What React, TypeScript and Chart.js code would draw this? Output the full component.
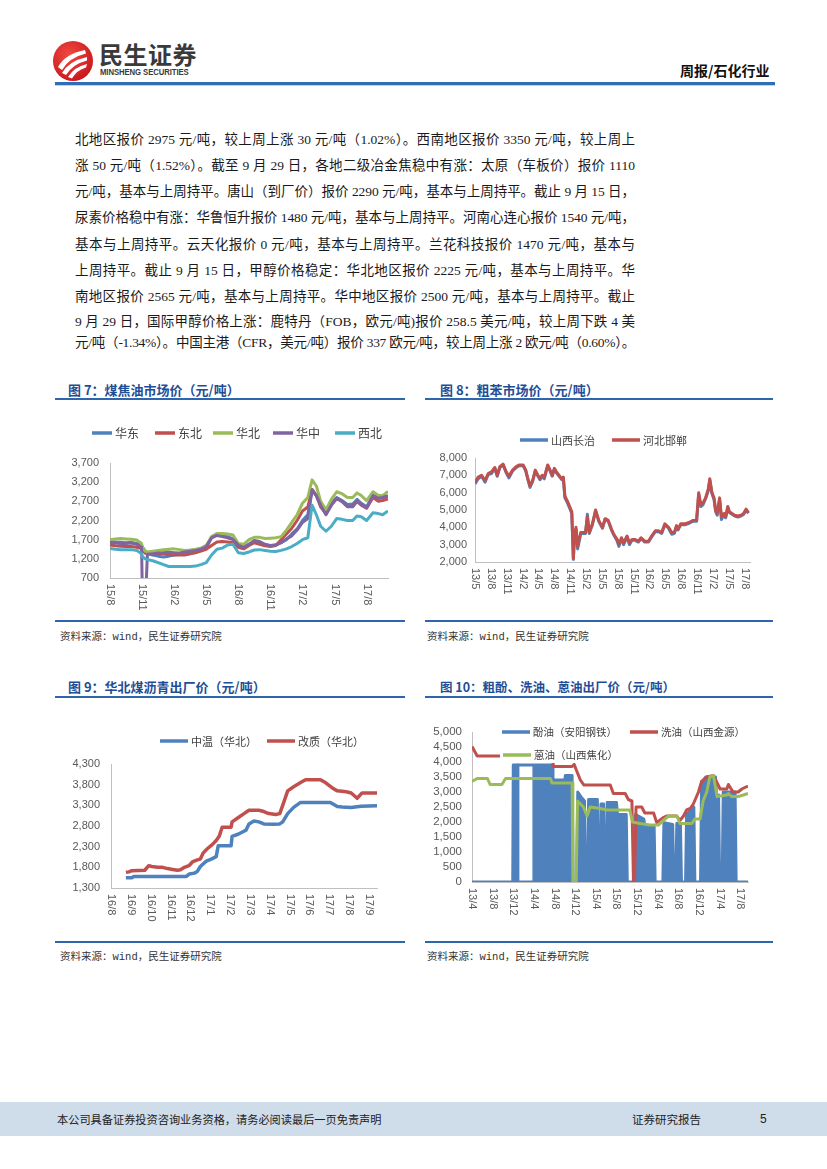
import React, { useEffect, useLayoutEffect, useRef } from 'react';
import { Chart, registerables } from 'chart.js';

Chart.register(...registerables);

// ---------------- colours / fonts ----------------
const BLUE = '#4f81bd';
const RED = '#c0504d';
const GREEN = '#9bbb59';
const PURPLE = '#8064a2';
const CYAN = '#4bacc6';
const AXIS = '#bfbfbf';
const TICK = '#595959';
const TICK_FAMILY = '"Liberation Sans", Arial, sans-serif';
const CJK = '"Noto Sans CJK SC", sans-serif';

// ---------------- Fig 7: 煤焦油市场价 (months since 2015-08) ----------------
const c7SeriesNames = ['华东', '东北', '华北', '华中', '西北'];
const c7Months = [0, 0.5, 1, 1.5, 2, 2.5, 2.95, 3.05, 3.3, 3.5, 4, 4.5, 5, 5.5, 6, 6.5, 7, 7.5, 8, 8.5, 9, 9.5, 10, 10.5, 11, 11.5, 12, 12.5, 13, 13.5, 14, 14.5, 15, 15.5, 16, 16.5, 17, 17.5, 18, 18.5, 18.9, 19.3, 19.7, 20.2, 20.7, 21.2, 21.7, 22.2, 22.7, 23.1, 23.5, 24, 24.6, 25.1, 25.5, 26];
const c7East = [1650, 1640, 1630, 1620, 1630, 1600, 1560, 1500, 1400, 1350, 1300, 1270, 1250, 1270, 1300, 1320, 1320, 1340, 1380, 1420, 1480, 1750, 1830, 1810, 1780, 1720, 1550, 1500, 1580, 1650, 1620, 1560, 1540, 1560, 1620, 1700, 1850, 1980, 2200, 2350, 3000, 2850, 2600, 2400, 2650, 2800, 2720, 2620, 2630, 2750, 2650, 2560, 2850, 2780, 2800, 2830];
const c7NorthEast = [1560, 1540, 1530, 1520, 1520, 1500, 1470, 1420, 1350, 1330, 1320, 1330, 1330, 1320, 1300, 1300, 1300, 1330, 1360, 1400, 1450, 1550, 1640, 1650, 1640, 1620, 1500, 1460, 1550, 1620, 1580, 1540, 1520, 1550, 1700, 1850, 2000, 2200, 2450, 2550, 3010, 2850, 2550, 2380, 2600, 2780, 2700, 2570, 2580, 2700, 2600, 2520, 2800, 2700, 2720, 2760];
const c7North = [1700, 1720, 1730, 1720, 1710, 1690, 1600, 1480, 1400, 1380, 1400, 1420, 1440, 1450, 1460, 1440, 1420, 1430, 1450, 1480, 1550, 1780, 1860, 1860, 1850, 1820, 1600, 1580, 1700, 1760, 1760, 1730, 1740, 1750, 1780, 1950, 2150, 2350, 2650, 2800, 3260, 3100, 2700, 2480, 2750, 2950, 2900, 2800, 2800, 2920, 2850, 2720, 2950, 2850, 2850, 2960];
const c7Central = [1620, 1610, 1600, 1600, 1610, 1580, 1500, 0, 0, 1320, 1330, 1350, 1360, 1370, 1360, 1350, 1380, 1400, 1420, 1450, 1520, 1750, 1810, 1780, 1750, 1700, 1560, 1500, 1580, 1680, 1650, 1580, 1550, 1560, 1620, 1720, 1800, 1950, 2150, 2250, 3000, 2850, 2600, 2350, 2600, 2770, 2700, 2560, 2560, 2700, 2620, 2530, 2850, 2780, 2800, 2850];
const c7NorthWest = [1470, 1450, 1440, 1440, 1440, 1420, 1330, 1250, 1200, 1180, 1150, 1100, 1050, 1000, 1000, 1000, 1000, 1000, 1010, 1050, 1100, 1300, 1450, 1480, 1560, 1580, 1360, 1340, 1380, 1430, 1440, 1420, 1400, 1390, 1420, 1460, 1520, 1600, 1700, 1750, 2600, 2350, 2050, 1920, 2050, 2250, 2230, 2200, 2200, 2320, 2300, 2200, 2400, 2380, 2350, 2450];
const c7TickMonths = [0, 3, 6, 9, 12, 15, 18, 21, 24];
const c7TickLabels = ['15/8', '15/11', '16/2', '16/5', '16/8', '16/11', '17/2', '17/5', '17/8'];

// ---------------- Fig 8: 粗苯市场价 (months since 2013-05) ----------------
const c8SeriesNames = ['山西长治', '河北邯郸'];
const c8Months = [0, 0.6, 1.25, 1.9, 2.5, 3.1, 3.75, 4.2, 4.7, 5.3, 5.9, 6.4, 7.1, 7.8, 8.4, 9.1, 9.6, 10, 10.4, 10.9, 11.4, 11.9, 12.3, 12.7, 13.1, 13.75, 14.2, 14.6, 15, 15.4, 15.9, 16.4, 16.7, 17, 17.5, 17.9, 18.3, 18.6, 18.8, 19.1, 19.4, 19.7, 20, 20.6, 20.9, 21.25, 21.6, 22.2, 22.8, 23.4, 24.1, 24.6, 25.2, 25.8, 26.25, 26.9, 27.2, 27.7, 28.1, 28.75, 29.2, 29.7, 30.3, 30.9, 31.4, 32.1, 32.8, 33.4, 34.1, 34.7, 35.3, 35.9, 36.6, 37.2, 37.7, 38.1, 38.4, 38.9, 39.7, 40.6, 41.25, 41.9, 42.3, 42.7, 43.1, 43.6, 44.1, 44.4, 44.8, 45.2, 45.5, 45.8, 46.25, 46.6, 47.1, 47.4, 47.8, 48.1, 48.6, 49.1, 49.7, 50.3, 50.8, 51.25, 51.7];
const c8Changzhi = [6500, 6800, 6950, 6600, 7050, 7100, 7400, 6950, 7450, 7600, 7150, 6850, 7250, 7450, 7550, 7550, 7250, 6750, 6300, 6650, 7250, 6950, 6750, 6950, 6800, 7550, 7250, 6950, 7350, 7150, 6950, 6750, 6850, 5700, 5400, 5100, 4800, 2150, 3400, 3900, 2750, 3200, 3650, 3650, 3650, 4750, 3650, 4150, 4950, 4350, 3950, 4450, 4350, 3850, 3550, 3200, 2900, 3350, 3000, 3450, 3000, 3250, 3250, 3150, 3350, 3150, 3150, 3450, 3750, 3750, 3650, 4150, 3950, 3600, 3650, 4050, 3850, 4150, 4150, 4250, 4350, 4350, 5900, 5200, 5300, 5650, 6100, 6700, 5950, 5600, 4900, 4700, 5600, 4450, 4750, 4550, 5150, 4850, 4750, 4650, 4600, 4650, 4750, 5000, 4800];
const c8Handan = [6600, 6900, 7000, 6700, 7100, 7200, 7450, 7000, 7500, 7650, 7200, 6950, 7300, 7500, 7600, 7600, 7300, 6800, 6400, 6700, 7300, 7000, 6800, 7000, 6900, 7600, 7300, 7000, 7400, 7200, 7000, 6800, 6900, 5800, 5500, 5200, 4900, 2200, 3500, 4000, 2900, 3300, 3700, 3700, 3700, 4600, 3700, 4200, 5000, 4400, 4000, 4500, 4400, 3900, 3600, 3300, 3000, 3400, 3100, 3500, 3100, 3300, 3300, 3200, 3400, 3200, 3200, 3500, 3800, 3800, 3700, 4200, 4000, 3700, 3700, 4100, 3900, 4200, 4200, 4300, 4400, 4400, 6000, 5300, 5400, 5700, 6200, 6800, 6000, 5700, 5000, 4800, 5700, 4600, 4800, 4600, 5200, 4900, 4800, 4700, 4650, 4700, 4800, 5050, 4850];
const c8TickMonths = [0, 3, 6, 9, 12, 15, 18, 21, 24, 27, 30, 33, 36, 39, 42, 45, 48, 51];
const c8TickLabels = ['13/5', '13/8', '13/11', '14/2', '14/5', '14/8', '14/11', '15/2', '15/5', '15/8', '15/11', '16/2', '16/5', '16/8', '16/11', '17/2', '17/5', '17/8'];

// ---------------- Fig 9: 华北煤沥青出厂价 (months since 2016-08) ----------------
const c9SeriesNames = ['中温（华北）', '改质（华北）'];
const c9MidMonths = [0.75, 1.05, 1.15, 3.8, 3.95, 4.2, 4.35, 4.5, 4.8, 5.05, 5.3, 5.4, 6.05, 6.1, 6.4, 6.6, 6.8, 6.95, 7.2, 7.45, 7.7, 8.2, 8.5, 8.65, 8.9, 9.2, 9.55, 11.05, 11.4, 11.65, 12.1, 12.6, 13.4];
const c9Mid = [1550, 1550, 1580, 1580, 1640, 1660, 1700, 1820, 1950, 2000, 2060, 2320, 2320, 2550, 2600, 2650, 2700, 2850, 2920, 2900, 2850, 2840, 2850, 2900, 3100, 3250, 3370, 3370, 3270, 3260, 3250, 3280, 3290];
const c9ModMonths = [0.75, 0.9, 1.05, 1.7, 1.9, 2.05, 2.35, 2.6, 2.85, 3.1, 3.35, 3.5, 3.7, 3.95, 4.1, 4.35, 4.5, 4.65, 4.85, 5.1, 5.3, 5.45, 5.6, 6.05, 6.1, 6.4, 6.7, 6.95, 7.45, 7.7, 7.95, 8.3, 8.5, 8.65, 8.9, 9.2, 9.55, 9.8, 10.55, 10.8, 11.15, 11.4, 11.85, 12.1, 12.4, 12.65, 13.4];
const c9Modified = [1680, 1690, 1720, 1730, 1840, 1820, 1800, 1800, 1770, 1750, 1730, 1740, 1800, 1850, 1930, 1980, 2000, 2150, 2250, 2350, 2450, 2550, 2770, 2770, 2900, 3000, 3100, 3180, 3180, 3150, 3100, 3080, 3100, 3300, 3650, 3750, 3850, 3920, 3920, 3850, 3720, 3650, 3630, 3600, 3470, 3600, 3600];
const c9TickMonths = [0, 1, 2, 3, 4, 5, 6, 7, 8, 9, 10, 11, 12, 13];
const c9TickLabels = ['16/8', '16/9', '16/10', '16/11', '16/12', '17/1', '17/2', '17/3', '17/4', '17/5', '17/6', '17/7', '17/8', '17/9'];

// ---------------- Fig 10: 粗酚、洗油、蒽油出厂价 (months since 2013-04) ----------------
const c10SeriesNames = ['酚油（安阳钢铁）', '洗油（山西金源）', '蒽油（山西焦化）'];
const c10PhenolMonths = [0, 7.9, 8.0, 8.8, 8.9, 11.9, 12.0, 15.6, 15.7, 18.0, 18.1, 19.4, 19.6, 20.3, 20.5, 21.3, 21.8, 22.0, 22.4, 22.6, 24.3, 24.5, 24.8, 25.0, 25.5, 25.7, 26.0, 26.2, 28.0, 28.2, 29.9, 30.1, 31.5, 31.7, 33.3, 33.5, 35.3, 35.5, 37.0, 37.2, 38.9, 39.1, 39.5, 39.7, 40.4, 40.6, 41.4, 41.6, 43.0, 43.2, 44.3, 44.5, 45.3, 47.2, 47.4, 47.8, 48.0, 48.5, 48.7, 51.0, 51.2, 53.5];
const c10Phenol = [0, 0, 3900, 3900, 0, 0, 3900, 3900, 3400, 3400, 3550, 3550, 0, 0, 3000, 2800, 2700, 0, 0, 2750, 2750, 0, 0, 2600, 2600, 0, 0, 2650, 2650, 2250, 2250, 0, 0, 2250, 2100, 1880, 1880, 0, 0, 1980, 1920, 0, 0, 1950, 1950, 0, 0, 2250, 2500, 0, 0, 3300, 3500, 3500, 2900, 2900, 0, 0, 3000, 3000, 0, 0];
const c10PhenolTopMonths = [8.8, 11.95];
const c10PhenolTop = [3900, 3900];
const c10WashMonths = [0, 1.0, 15.5, 15.8, 19.4, 19.8, 20.3, 21.0, 21.7, 26.8, 27.4, 29.7, 30.3, 31.0, 31.3, 31.5, 31.8, 32.9, 33.5, 35.2, 35.8, 37.1, 37.7, 39.7, 40.3, 41.0, 41.6, 42.3, 42.9, 43.9, 44.5, 45.5, 46.8, 48.1, 49.4, 49.7, 50.6, 51.6, 52.3, 52.9, 53.5];
const c10Wash = [4520, 4200, 4200, 3850, 3850, 3920, 3700, 3400, 3230, 3230, 2950, 2950, 2750, 2700, 0, 0, 2500, 2500, 2300, 2300, 1980, 2150, 2200, 2200, 2050, 2200, 2400, 2450, 2600, 3000, 3350, 3500, 3550, 3100, 3100, 3250, 3000, 3000, 3100, 3150, 3200];
const c10AnthraMonths = [0, 1.0, 3.0, 3.5, 5.8, 6.5, 15.2, 15.5, 19.4, 19.55, 20.2, 20.45, 21.6, 22.3, 22.9, 24.8, 26.1, 30.6, 31.1, 32.6, 34.5, 36.1, 37.1, 38.1, 39.7, 40.3, 42.6, 43.2, 44.2, 44.8, 45.5, 46.1, 46.8, 47.5, 49.4, 49.7, 50.3, 51.6, 52.6, 53.5];
const c10Anthra = [3350, 3450, 3450, 3250, 3250, 3450, 3450, 3300, 3300, 0, 0, 2700, 2500, 2200, 2500, 2450, 2400, 2400, 2000, 1950, 1900, 1900, 2050, 2200, 2200, 1950, 1950, 2100, 2100, 2700, 3000, 3500, 3550, 2850, 2900, 2950, 2850, 2850, 2900, 2950];
const c10TickMonths = [0, 4, 8, 12, 16, 20, 24, 28, 32, 36, 40, 44, 48, 52];
const c10TickLabels = ['13/4', '13/8', '13/12', '14/4', '14/8', '14/12', '15/4', '15/8', '15/12', '16/4', '16/8', '16/12', '17/4', '17/8'];

// ---------------- page text ----------------
const PARA_LINES = [
  '北地区报价 2975 元/吨，较上周上涨 30 元/吨（1.02%）。西南地区报价 3350 元/吨，较上周上',
  '涨 50 元/吨（1.52%）。截至 9 月 29 日，各地二级冶金焦稳中有涨：太原（车板价）报价 1110',
  '元/吨，基本与上周持平。唐山（到厂价）报价 2290 元/吨，基本与上周持平。截止 9 月 15 日，',
  '尿素价格稳中有涨：华鲁恒升报价 1480 元/吨，基本与上周持平。河南心连心报价 1540 元/吨，',
  '基本与上周持平。云天化报价 0 元/吨，基本与上周持平。兰花科技报价 1470 元/吨，基本与',
  '上周持平。截止 9 月 15 日，甲醇价格稳定：华北地区报价 2225 元/吨，基本与上周持平。华',
  '南地区报价 2565 元/吨，基本与上周持平。华中地区报价 2500 元/吨，基本与上周持平。截止',
  '9 月 29 日，国际甲醇价格上涨：鹿特丹（FOB，欧元/吨)报价 258.5 美元/吨，较上周下跌 4 美',
  '元/吨（-1.34%）。中国主港（CFR，美元/吨）报价 337 欧元/吨，较上周上涨 2 欧元/吨（0.60%）。',
];
const PARA_Y = [140, 166, 192, 218, 245, 271, 297, 322, 343];
const PARA_LEFT = 75;
const PARA_W = 560;

// ---------------- helpers ----------------
type Pt = { x: number; y: number };
const pts = (xs: number[], ys: number[]): Pt[] => xs.map((x, i) => ({ x, y: ys[i] }));

function ds(label: string, color: string, data: Pt[], width = 3, extra: any = {}) {
  return {
    label,
    data,
    borderColor: color,
    backgroundColor: color,
    borderWidth: width,
    pointRadius: 0,
    pointHoverRadius: 0,
    fill: false,
    tension: 0,
    borderJoinStyle: 'round',
    ...extra,
  };
}

// later series drawn on top (as in the original spreadsheet charts)
const stackOrder = (list: any[]) => list.map((d, i) => ({ ...d, order: list.length - i }));

function rotatedXLabels(values: number[], labels: string[], font: string, offset: number) {
  return {
    id: 'rotatedXLabels',
    afterDraw(chart: any) {
      const xs = chart.scales.x;
      const ctx = chart.ctx;
      ctx.save();
      ctx.font = font;
      ctx.fillStyle = TICK;
      ctx.textAlign = 'left';
      ctx.textBaseline = 'middle';
      values.forEach((v, i) => {
        const px = xs.getPixelForValue(v);
        ctx.save();
        ctx.translate(px, xs.top + offset);
        ctx.rotate(Math.PI / 2);
        ctx.fillText(labels[i], 0, 0);
        ctx.restore();
      });
      ctx.restore();
    },
  };
}

type LegendItem = { index: number; x: number; y: number };
function lineLegend(items: LegendItem[], font: string, lineLen: number, cover?: number[]) {
  return {
    id: 'lineLegend',
    afterDraw(chart: any) {
      const ctx = chart.ctx;
      ctx.save();
      if (cover) {
        ctx.fillStyle = '#ffffff';
        ctx.fillRect(cover[0], cover[1], cover[2], cover[3]);
      }
      ctx.font = font;
      ctx.textAlign = 'left';
      ctx.textBaseline = 'middle';
      items.forEach((it) => {
        const d = chart.data.datasets[it.index];
        ctx.fillStyle = d.borderColor;
        ctx.fillRect(it.x, it.y - 1.75, lineLen, 3.5);
        ctx.fillStyle = '#404040';
        ctx.fillText(d.label, it.x + lineLen + 3, it.y + 0.5);
      });
      ctx.restore();
    },
  };
}

interface Spec {
  datasets: any[];
  xMax: number;
  yMin: number;
  yMax: number;
  yStep: number;
  yWidth: number;
  yPad: number;
  yFontSize: number;
  xHeight: number;
  padding: { left: number; right: number; top: number; bottom: number };
  xTickValues: number[];
  xTickLabels: string[];
  legend: LegendItem[];
  legendFont: string;
  legendLine: number;
  cover?: number[];
}

function makeLineChart(canvas: HTMLCanvasElement, s: Spec) {
  return new Chart(canvas, {
    type: 'line',
    data: { datasets: stackOrder(s.datasets) },
    options: {
      responsive: false,
      animation: false,
      devicePixelRatio: 1,
      layout: { padding: s.padding },
      events: [],
      plugins: { legend: { display: false }, tooltip: { enabled: false } },
      scales: {
        x: {
          type: 'linear',
          min: 0,
          max: s.xMax,
          grid: { display: false, drawTicks: false },
          border: { display: true, color: AXIS, width: 1 },
          ticks: { display: false },
          afterFit: (sc: any) => {
            sc.height = s.xHeight;
          },
        },
        y: {
          type: 'linear',
          min: s.yMin,
          max: s.yMax,
          grid: { display: false, drawTicks: false },
          border: { display: true, color: AXIS, width: 1 },
          ticks: {
            stepSize: s.yStep,
            autoSkip: false,
            color: TICK,
            padding: s.yPad,
            font: { family: TICK_FAMILY, size: s.yFontSize },
            callback: (v: any) => Number(v).toLocaleString('en-US'),
          },
          afterFit: (sc: any) => {
            sc.width = s.yWidth;
          },
        },
      },
    } as any,
    plugins: [
      rotatedXLabels(s.xTickValues, s.xTickLabels, `11px ${TICK_FAMILY}`, 6),
      lineLegend(s.legend, s.legendFont, s.legendLine, s.cover),
    ],
  });
}

function ChartBox({ left, top, width, height, spec }: { left: number; top: number; width: number; height: number; spec: () => Spec }) {
  const ref = useRef<HTMLCanvasElement>(null);
  useEffect(() => {
    const chart = makeLineChart(ref.current as HTMLCanvasElement, spec());
    return () => chart.destroy();
  }, []);
  return (
    <canvas
      ref={ref}
      width={width}
      height={height}
      style={{ position: 'absolute', left, top, width, height, display: 'block' }}
    />
  );
}

// ---------------- chart specs ----------------
const spec7 = (): Spec => ({
  datasets: [
    ds(c7SeriesNames[0], BLUE, pts(c7Months, c7East)),
    ds(c7SeriesNames[1], RED, pts(c7Months, c7NorthEast)),
    ds(c7SeriesNames[2], GREEN, pts(c7Months, c7North)),
    ds(c7SeriesNames[3], PURPLE, pts(c7Months, c7Central)),
    ds(c7SeriesNames[4], CYAN, pts(c7Months, c7NorthWest)),
  ],
  xMax: 26,
  yMin: 700,
  yMax: 3700,
  yStep: 500,
  yWidth: 45,
  yPad: 11,
  yFontSize: 11,
  xHeight: 30,
  padding: { left: 10, right: 17, top: 63, bottom: 7 },
  xTickValues: c7TickMonths,
  xTickLabels: c7TickLabels,
  legend: [
    { index: 0, x: 37, y: 33 },
    { index: 1, x: 100, y: 33 },
    { index: 2, x: 158, y: 33 },
    { index: 3, x: 218, y: 33 },
    { index: 4, x: 280, y: 33 },
  ],
  legendFont: `12px ${CJK}`,
  legendLine: 20,
});

const spec8 = (): Spec => ({
  datasets: [
    ds(c8SeriesNames[0], BLUE, pts(c8Months, c8Changzhi)),
    ds(c8SeriesNames[1], RED, pts(c8Months, c8Handan)),
  ],
  xMax: 52,
  yMin: 2000,
  yMax: 8000,
  yStep: 1000,
  yWidth: 40,
  yPad: 8,
  yFontSize: 11,
  xHeight: 40,
  padding: { left: 10, right: 25, top: 58, bottom: 13 },
  xTickValues: c8TickMonths,
  xTickLabels: c8TickLabels,
  legend: [
    { index: 0, x: 95, y: 40 },
    { index: 1, x: 187, y: 40 },
  ],
  legendFont: `11px ${CJK}`,
  legendLine: 28,
});

const spec9 = (): Spec => ({
  datasets: [
    ds(c9SeriesNames[0], BLUE, pts(c9MidMonths, c9Mid), 3.5),
    ds(c9SeriesNames[1], RED, pts(c9ModMonths, c9Modified), 3.5),
  ],
  xMax: 13.4,
  yMin: 1300,
  yMax: 4300,
  yStep: 500,
  yWidth: 46,
  yPad: 11,
  yFontSize: 11,
  xHeight: 40,
  padding: { left: 10, right: 28, top: 64, bottom: 7 },
  xTickValues: c9TickMonths,
  xTickLabels: c9TickLabels,
  legend: [
    { index: 0, x: 105, y: 41 },
    { index: 1, x: 212, y: 41 },
  ],
  legendFont: `11px ${CJK}`,
  legendLine: 28,
});

const spec10 = (): Spec => ({
  datasets: [
    ds(c10SeriesNames[0], BLUE, pts(c10PhenolMonths, c10Phenol), 3, { fill: 'origin' }),
    ds('', BLUE, pts(c10PhenolTopMonths, c10PhenolTop), 3),
    ds(c10SeriesNames[1], RED, pts(c10WashMonths, c10Wash), 3),
    ds(c10SeriesNames[2], GREEN, pts(c10AnthraMonths, c10Anthra), 3),
  ],
  xMax: 53.5,
  yMin: 0,
  yMax: 5000,
  yStep: 500,
  yWidth: 40,
  yPad: 10,
  yFontSize: 11.5,
  xHeight: 40,
  padding: { left: 7, right: 27, top: 32, bottom: 13 },
  xTickValues: c10TickMonths,
  xTickLabels: c10TickLabels,
  legend: [
    { index: 0, x: 77, y: 32 },
    { index: 2, x: 205, y: 32 },
    { index: 3, x: 78, y: 55 },
  ],
  legendFont: `10.5px ${CJK}`,
  legendLine: 28,
  cover: [75, 45, 122, 18],
});

// ---------------- page pieces ----------------
function Txt({ x, y, size, children, bold, color, family, h, style }: any) {
  const lh = h || Math.round(size * 1.4);
  return (
    <div
      style={{
        position: 'absolute',
        left: x,
        top: y - lh / 2,
        fontSize: size,
        lineHeight: `${lh}px`,
        fontWeight: bold ? 700 : 400,
        color: color || '#222',
        fontFamily: family || CJK,
        whiteSpace: 'nowrap',
        ...style,
      }}
    >
      {children}
    </div>
  );
}

function Rule({ x, y, w, h, color }: any) {
  return <div style={{ position: 'absolute', left: x, top: y, width: w, height: h || 2, background: color || '#2e66ae' }} />;
}

function Paragraph() {
  const refs = useRef<Array<HTMLDivElement | null>>([]);
  useLayoutEffect(() => {
    refs.current.forEach((el) => {
      if (!el) return;
      const span = el.firstElementChild as HTMLElement;
      el.style.whiteSpace = 'nowrap';
      el.style.textAlignLast = 'left';
      const w = span.getBoundingClientRect().width;
      el.style.whiteSpace = 'normal';
      el.style.textAlignLast = 'justify';
      if (w > PARA_W) {
        const n = (span.textContent || '').length;
        el.style.letterSpacing = `${(PARA_W - w) / n - 0.05}px`;
      }
    });
  }, []);
  return (
    <>
      {PARA_LINES.map((t, i) => (
        <div
          key={i}
          ref={(el) => {
            refs.current[i] = el;
          }}
          style={{
            position: 'absolute',
            left: PARA_LEFT,
            top: PARA_Y[i] - 10,
            width: PARA_W,
            height: 20,
            lineHeight: '20px',
            fontSize: 13.5,
            color: '#1a1a1a',
            fontFamily: '"Liberation Serif", "Noto Sans CJK SC", serif',
            textAlign: 'justify',
            textAlignLast: 'justify' as any,
            overflow: 'visible',
          }}
        >
          <span>{t}</span>
        </div>
      ))}
    </>
  );
}

function Logo() {
  return (
    <svg width={42} height={42} viewBox="0 0 42 42" style={{ position: 'absolute', left: 52, top: 40 }}>
      <defs>
        <radialGradient id="lg" cx="40%" cy="35%" r="70%">
          <stop offset="0%" stopColor="#f04a40" />
          <stop offset="100%" stopColor="#c8161d" />
        </radialGradient>
      </defs>
      <circle cx="21" cy="21" r="20" fill="url(#lg)" />
      <path d="M6 27 Q13 14 33 10 L34 13.5 Q17 17.5 10 30 Z" fill="#fff" />
      <path d="M10 33 Q17 21 35 17 L35 20.5 Q21 24 14 35 Z" fill="#fff" />
      <path d="M16 37 Q22 27 35 24 L34 27.5 Q25 30 20 38.5 Z" fill="#fff" />
    </svg>
  );
}

export default function App() {
  useEffect(() => {
    document.body.style.margin = '0';
  }, []);
  const src = '资料来源：wind，民生证券研究院';
  const srcFamily = '"Liberation Mono", "Noto Sans CJK SC", monospace';
  return (
    <div style={{ position: 'absolute', left: 0, top: 0, width: 827, height: 1169, background: '#fff', overflow: 'hidden' }}>
      {/* header */}
      <Logo />
      <Txt x={99} y={54} size={24} bold color="#3a3a3a" h={28} style={{ letterSpacing: '0.5px' }}>
        民生证券
      </Txt>
      <Txt
        x={100}
        y={71.5}
        size={9}
        bold
        color="#3a3a3a"
        family={TICK_FAMILY}
        h={10}
        style={{ transform: 'scaleX(0.86)', transformOrigin: 'left center', letterSpacing: '-0.1px' }}
      >
        MINSHENG SECURITIES
      </Txt>
      <Txt x={680} y={70} size={14} bold color="#111">
        周报/石化行业
      </Txt>
      <Rule x={55} y={82} w={720} h={3} color="#2f6db5" />
      <Rule x={55} y={85} w={720} h={1} color="#c9d3df" />

      {/* paragraph */}
      <Paragraph />

      {/* figure 7 */}
      <Txt x={68} y={390} size={13} bold color="#1f4e96">
        图 7：煤焦油市场价（元/吨）
      </Txt>
      <Rule x={55} y={398} w={350} h={2} />
      <ChartBox left={55} top={400} width={350} height={215} spec={spec7} />
      <Rule x={55} y={620} w={350} h={2} />
      <Txt x={60} y={637} size={10.5} color="#333" family={srcFamily}>
        {src}
      </Txt>

      {/* figure 8 */}
      <Txt x={440} y={390} size={13} bold color="#1f4e96">
        图 8：粗苯市场价（元/吨）
      </Txt>
      <Rule x={425} y={398} w={348} h={2} />
      <ChartBox left={425} top={400} width={350} height={215} spec={spec8} />
      <Rule x={425} y={620} w={348} h={2} />
      <Txt x={427} y={637} size={10.5} color="#333" family={srcFamily}>
        {src}
      </Txt>

      {/* figure 9 */}
      <Txt x={68} y={687} size={13} bold color="#1f4e96">
        图 9：华北煤沥青出厂价（元/吨）
      </Txt>
      <Rule x={55} y={696} w={350} h={2} />
      <ChartBox left={55} top={700} width={350} height={235} spec={spec9} />
      <Rule x={55} y={941} w={350} h={2} />
      <Txt x={60} y={957} size={10.5} color="#333" family={srcFamily}>
        {src}
      </Txt>

      {/* figure 10 */}
      <Txt x={440} y={687} size={12.5} bold color="#1f4e96">
        图 10：粗酚、洗油、蒽油出厂价（元/吨）
      </Txt>
      <Rule x={425} y={696} w={348} h={2} />
      <ChartBox left={425} top={700} width={350} height={235} spec={spec10} />
      <Rule x={425} y={941} w={348} h={2} />
      <Txt x={427} y={957} size={10.5} color="#333" family={srcFamily}>
        {src}
      </Txt>

      {/* footer */}
      <div style={{ position: 'absolute', left: 0, top: 1102, width: 827, height: 34, background: '#cfdcea' }} />
      <Txt x={57} y={1119} size={11.2} color="#222">
        本公司具备证券投资咨询业务资格，请务必阅读最后一页免责声明
      </Txt>
      <Txt x={632} y={1119} size={11.5} color="#222">
        证券研究报告
      </Txt>
      <Txt x={760} y={1119} size={12} color="#222" family={TICK_FAMILY}>
        5
      </Txt>
    </div>
  );
}
